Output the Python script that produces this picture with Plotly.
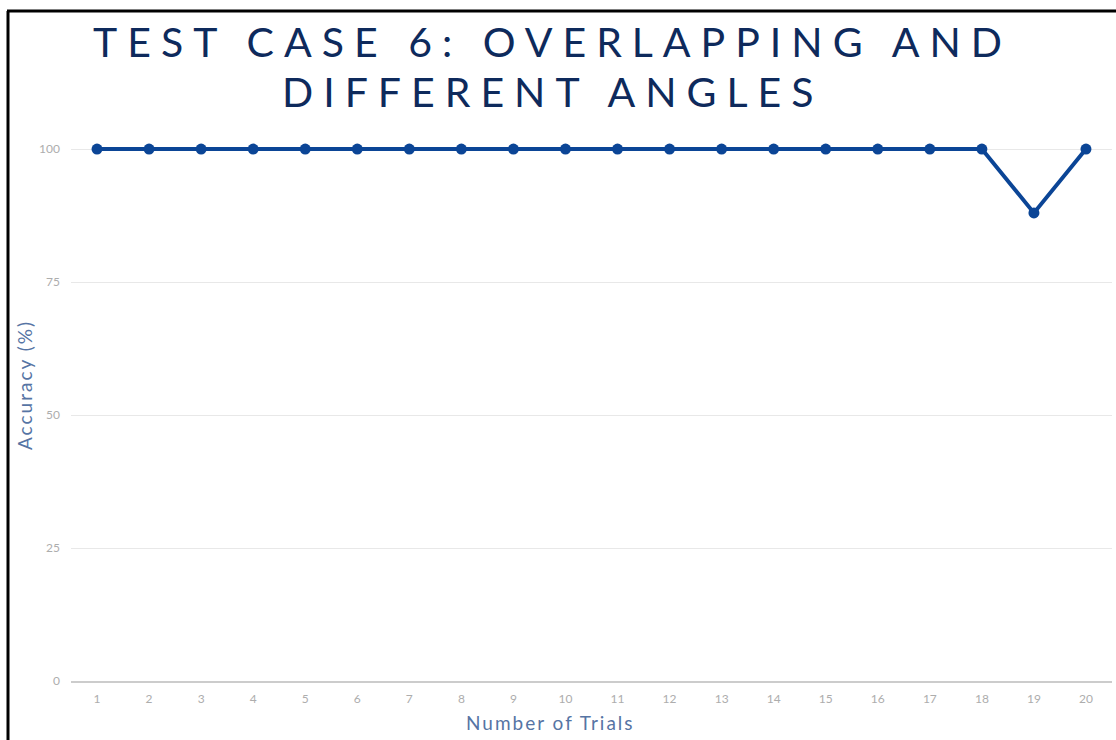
import plotly.graph_objects as go

# Trial results
trials = [str(i) for i in range(1, 21)]
accuracy = [100, 100, 100, 100, 100, 100, 100, 100, 100, 100,
            100, 100, 100, 100, 100, 100, 100, 100, 88, 100]
y_ticks = [0, 25, 50, 75, 100]

W, H = 1116, 740
L, R, T, B = 71, 4, 89, 59
plot_w = W - L - R
plot_h = H - T - B
Y_TOP = 111.3


def px_x(x):
    return (x - L) / plot_w


def px_y(y):
    return (H - B - y) / plot_h


TITLE_FONT = dict(family="Lato", size=41, color="#0e2a5c")
AXIS_TITLE_FONT = dict(family="Lato", size=19, color="#5674a4")
TICK_FONT = dict(family="Lato", size=12, color="#adadad")

fig = go.Figure()
fig.add_trace(go.Scatter(
    x=trials, y=accuracy, mode="lines+markers",
    line=dict(color="#0b4596", width=4),
    marker=dict(color="#0b4596", size=11),
    showlegend=False,
))

# Frame lines on the left and top edges
fig.add_shape(type="line", xref="paper", yref="paper",
              x0=px_x(8), x1=px_x(8), y0=px_y(11), y1=px_y(H + 5),
              line=dict(color="black", width=3))
fig.add_shape(type="line", xref="paper", yref="paper",
              x0=px_x(7), x1=px_x(W + 5), y0=px_y(11), y1=px_y(11),
              line=dict(color="black", width=3))

# Two-line heading
fig.add_annotation(text="TEST CASE 6: OVERLAPPING AND", xref="paper", yref="paper",
                   x=px_x(552), y=px_y(41.5), xanchor="center", yanchor="middle",
                   showarrow=False, font=TITLE_FONT)
fig.add_annotation(text="DIFFERENT ANGLES", xref="paper", yref="paper",
                   x=px_x(552), y=px_y(91.5), xanchor="center", yanchor="middle",
                   showarrow=False, font=TITLE_FONT)

# Axis titles
fig.add_annotation(text="Number of Trials", xref="paper", yref="paper",
                   x=px_x(550), y=px_y(722), xanchor="center", yanchor="middle",
                   showarrow=False, font=AXIS_TITLE_FONT)
fig.add_annotation(text="Accuracy (%)", xref="paper", yref="paper",
                   x=px_x(24), y=px_y(385), xanchor="center", yanchor="middle",
                   textangle=-90, showarrow=False, font=AXIS_TITLE_FONT)

fig.update_layout(
    width=W, height=H,
    margin=dict(l=L, r=R, t=T, b=B),
    paper_bgcolor="white", plot_bgcolor="white",
    xaxis=dict(
        type="category", range=[-0.5, 19.5], showgrid=False,
        showline=True, linecolor="#cccccc", linewidth=2,
        ticks="", tickfont=TICK_FONT, ticklabelstandoff=6,
    ),
    yaxis=dict(
        range=[0, Y_TOP], tickvals=y_ticks, showline=False, zeroline=False,
        gridcolor="#e8e8e8", gridwidth=1, ticks="",
        tickfont=TICK_FONT, ticklabelstandoff=10,
    ),
)

spacing_js = """
var gd = document.getElementsByClassName('plotly-graph-div')[0];
function spread() {
  var notes = gd.querySelectorAll('.annotation-text');
  notes.forEach(function (n) {
    var s = n.textContent;
    if (s.indexOf('TEST') === 0 || s.indexOf('DIFFERENT') === 0) {
      n.style.letterSpacing = '10px';
    } else {
      n.style.letterSpacing = '2px';
    }
  });
}
spread();
gd.on('plotly_afterplot', spread);
"""

fig.write_html("out.html", post_script=spacing_js)
